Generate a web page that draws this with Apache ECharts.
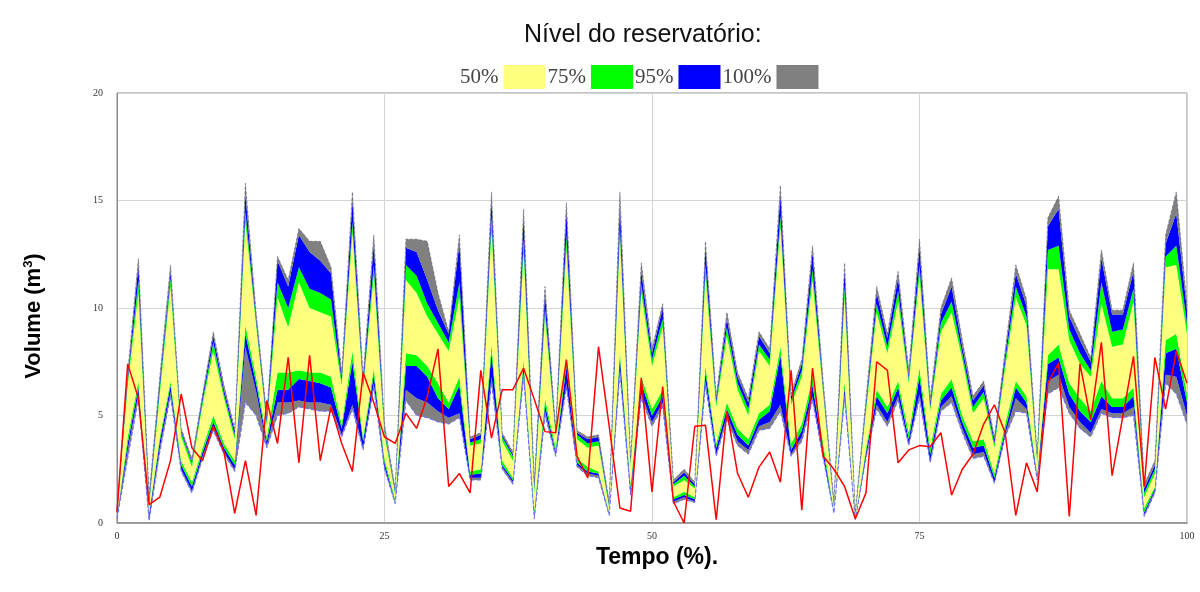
<!DOCTYPE html>
<html>
<head>
<meta charset="utf-8">
<script src="https://cdn.jsdelivr.net/npm/echarts@6/dist/echarts.min.js"></script>
<style>
  html, body { margin: 0; padding: 0; background: #fff; }
  #chart { width: 1200px; height: 592px; }
</style>
</head>
<body>
<div id="chart"></div>
<script>
// Tempo (%) 0..100, one value per step
const tempo = Array.from({ length: 101 }, (_, i) => String(i))

// envelope of the reservoir level bands (upper side)
const hi100 = [0.6,7.0,12.3,1.3,6.8,12.0,4.4,3.0,6.0,8.9, 6.4,4.4,15.8,9.8,5.0,12.4,11.3,13.7,13.1,13.1, 11.9,7.0,15.4,6.8,13.4,4.6,1.6,13.2,13.2,13.1, 10.7,8.9,13.4,4.0,4.2,15.4,4.2,3.3,14.6,1.9, 11.0,4.4,14.9,4.3,4.0,4.1,1.0,15.4,3.0,12.1, 8.1,10.2,2.0,2.5,1.9,13.1,5.9,9.8,7.0,5.8, 8.9,8.1,15.7,6.0,7.6,12.9,6.6,1.0,12.1,0.5, 5.8,11.0,8.8,11.7,7.1,13.2,5.8,10.0,11.4,8.5, 5.9,6.6,4.0,8.0,12.0,10.4,3.2,14.2,15.2,9.9, 8.8,7.7,12.7,9.9,9.9,12.1,1.8,2.9,13.4,15.4, 10.1]
const hi95 = [0.55,6.8,12.0,1.1,6.6,11.7,4.3,2.9,5.9,8.7, 6.2,4.3,15.3,9.6,4.9,12.2,11.0,13.4,12.6,12.2, 11.6,6.8,15.0,6.6,13.0,4.4,1.5,12.8,12.6,11.3, 9.9,8.8,13.0,3.9,4.1,15.0,4.1,3.2,14.2,1.8, 10.7,4.3,14.5,4.2,3.9,4.0,0.9,14.8,2.9,11.7, 7.9,10.0,1.9,2.35,1.8,12.8,5.8,9.5,6.8,5.6, 8.7,7.9,15.3,5.9,7.4,12.6,6.4,0.9,11.8,0.45, 5.6,10.7,8.6,11.4,6.9,12.8,5.6,9.7,11.0,8.2, 5.7,6.4,3.9,7.8,11.6,10.1,3.1,13.8,14.6,9.6, 8.5,7.5,12.3,9.7,9.7,11.7,1.6,2.7,13.0,14.4, 9.9]
const hi75 = [0.5,6.6,11.3,0.9,6.3,11.4,4.2,2.8,5.7,8.4, 6.0,4.1,14.5,9.4,4.7,11.2,10.0,11.9,10.9,10.7, 10.4,6.6,14.0,6.4,12.0,4.3,1.4,12.0,11.5,10.2, 9.3,8.4,11.2,3.75,3.9,14.2,4.0,3.1,13.2,1.6, 10.0,4.2,13.4,4.1,3.7,3.8,0.8,13.8,2.8,11.1, 7.6,9.5,1.8,2.2,1.7,12.0,5.6,9.1,6.5,5.3, 8.3,7.6,14.3,5.7,7.1,11.8,6.2,0.8,11.0,0.4, 5.4,10.2,8.2,10.8,6.7,12.0,5.4,9.3,10.3,7.9, 5.4,6.1,3.7,7.5,11.0,9.6,3.0,12.7,12.9,9.0, 7.9,7.1,11.2,8.9,9.0,10.9,1.4,2.5,12.4,12.9, 9.3]
const hi50 = [0.45,6.4,10.7,0.8,6.0,11.0,4.0,2.6,5.5,8.0, 5.8,3.9,14.0,9.2,4.5,10.5,9.1,11.2,10.0,9.8, 9.6,6.4,13.5,6.2,11.5,4.1,1.3,11.3,10.7,9.6, 8.8,8.0,10.5,3.6,3.7,13.6,3.8,2.9,12.6,1.4, 9.6,4.0,12.8,3.9,3.5,3.6,0.7,13.3,2.6,10.7, 7.3,9.1,1.7,2.0,1.6,11.5,5.4,8.7,6.2,5.0, 8.0,7.3,13.8,5.5,6.8,11.3,6.0,0.75,10.5,0.35, 5.2,9.8,7.9,10.3,6.5,11.5,5.2,8.9,9.8,7.6, 5.1,5.8,3.5,7.2,10.5,9.2,2.8,11.8,11.8,8.5, 7.4,6.8,10.2,8.2,8.3,10.3,1.2,2.3,11.9,12.0, 8.8]

// lower side
const lo50 = [0.35,4.0,6.6,0.5,4.0,6.6,2.9,1.9,3.5,5.0, 3.7,2.9,9.2,6.8,4.0,7.0,7.0,7.1,7.0,7.0, 6.8,4.6,8.0,4.0,7.2,3.0,1.1,7.9,7.8,7.3, 6.5,5.6,6.8,2.4,2.5,8.3,2.9,2.1,7.6,0.6, 5.8,3.5,7.7,3.0,2.6,2.4,0.5,8.0,1.8,6.8, 5.3,6.2,1.2,1.45,1.2,7.3,3.7,5.6,4.4,3.9, 5.1,5.5,8.2,3.7,4.6,6.8,3.7,0.6,6.6,0.25, 3.5,6.2,5.4,6.6,4.2,7.2,3.5,6.0,6.7,5.0, 3.8,3.9,2.3,4.6,6.6,5.9,2.3,7.8,8.3,6.5, 5.8,5.2,6.6,5.8,5.8,6.3,0.7,1.7,8.5,8.8, 6.0]
const lo75 = [0.3,3.7,6.3,0.4,3.8,6.4,2.7,1.7,3.3,4.7, 3.5,2.7,8.8,6.5,3.8,6.2,6.2,6.7,6.6,6.5, 6.3,4.4,7.5,3.8,6.9,2.8,1.0,7.3,7.3,6.8, 5.8,5.3,6.4,2.25,2.3,7.9,2.7,2.0,7.3,0.4, 5.5,3.3,7.3,2.8,2.4,2.3,0.45,7.7,1.6,6.5, 5.0,5.9,1.1,1.3,1.1,7.0,3.5,5.3,4.1,3.6, 4.8,5.2,7.8,3.4,4.3,6.4,3.4,0.55,6.3,0.2, 3.3,5.9,5.1,6.3,3.9,6.8,3.2,5.7,6.3,4.7, 3.5,3.6,2.1,4.3,6.3,5.6,2.2,7.4,7.7,6.0, 5.2,4.7,5.9,5.4,5.4,5.9,0.5,1.6,7.9,8.1, 5.6]
const lo95 = [0.25,3.4,6.0,0.2,3.5,6.1,2.5,1.5,3.1,4.5, 3.3,2.5,8.2,6.1,3.6,5.6,5.6,5.7,5.6,5.6, 5.5,4.1,5.5,3.5,6.5,2.6,0.95,6.2,5.8,5.6, 5.2,4.9,5.1,2.1,2.1,6.8,2.6,1.9,7.0,0.3, 5.2,3.2,6.5,2.7,2.3,2.2,0.4,7.2,1.4,6.0, 4.7,5.6,1.0,1.2,1.0,6.6,3.2,5.0,3.8,3.4, 4.5,4.7,5.5,3.2,4.0,5.9,3.1,0.5,6.0,0.18, 3.1,5.5,4.7,5.9,3.7,6.0,2.9,5.4,5.9,4.4, 3.2,3.3,1.9,4.1,5.8,5.3,2.1,6.6,6.9,5.4, 4.7,4.2,5.3,5.1,5.1,5.4,0.4,1.5,6.9,6.8, 5.0]
const lo100 = [0.2,3.0,5.8,0.1,3.3,5.9,2.4,1.4,3.0,4.3, 3.2,2.4,5.6,5.0,3.5,5.0,5.1,5.4,5.3,5.2, 5.2,4.0,5.3,3.4,6.3,2.5,0.9,5.7,5.0,4.9, 4.7,4.6,4.9,2.0,2.0,6.5,2.5,1.8,6.8,0.2, 5.0,3.1,6.3,2.6,2.2,2.1,0.35,7.0,1.3,5.8, 4.5,5.4,0.9,1.1,0.95,6.4,3.1,4.8,3.6,3.2, 4.3,4.4,5.2,3.1,3.8,5.7,3.0,0.45,5.8,0.15, 3.0,5.3,4.5,5.7,3.6,5.8,2.8,5.2,5.6,4.2, 3.0,3.1,1.85,4.0,5.2,5.1,2.0,6.0,6.3,5.1, 4.4,4.0,5.1,4.9,4.9,5.0,0.3,1.4,6.5,6.0, 4.6]

// observed volume (red line)
const observado = [0.5,7.4,5.8,0.85,1.2,2.9,6.0,3.5,2.9,4.5, 3.3,0.45,2.9,0.35,5.7,3.7,7.7,2.8,7.8,2.9, 5.4,3.7,2.4,7.0,5.6,4.0,3.7,5.1,4.4,5.9, 8.1,1.7,2.3,1.4,7.1,3.95,6.2,6.2,7.2,5.75, 4.25,4.2,7.6,3.1,2.1,8.2,4.5,0.7,0.55,6.75, 1.45,6.35,1.0,0.0,4.5,4.55,0.15,5.2,2.3,1.2, 2.6,3.3,1.9,7.1,0.6,7.2,3.1,2.5,1.7,0.2, 1.4,7.5,7.1,2.8,3.4,3.6,3.55,4.2,1.3,2.5, 3.2,4.6,5.5,4.2,0.35,2.8,1.45,6.5,7.45,0.3, 7.4,4.8,8.4,2.2,4.95,7.75,1.7,7.7,5.3,8.0, 6.5]

const legendNames = ['50%', '75%', '95%', '100%']
const colors = { '50%': '#ffff80', '75%': '#00ff00', '95%': '#0000ff', '100%': '#808080' }

const diff = (top, bot) => top.map((v, i) => Math.max(0, +(v - bot[i]).toFixed(3)))

// bands stacked from the bottom envelope upwards
const layers = [
  ['100%', lo95, lo100],
  ['95%', lo75, lo95],
  ['75%', lo50, lo75],
  ['50%', hi50, lo50],
  ['75%', hi75, hi50],
  ['95%', hi95, hi75],
  ['100%', hi100, hi95]
]

const series = [{
  name: 'base',
  type: 'line',
  stack: 'fan',
  data: lo100,
  symbol: 'none',
  lineStyle: { width: 0 },
  silent: true
}]

layers.forEach(([name, top, bot]) => {
  series.push({
    name,
    type: 'line',
    stack: 'fan',
    data: diff(top, bot),
    symbol: 'none',
    color: colors[name],
    lineStyle: { width: 0 },
    areaStyle: { color: colors[name], opacity: 1 },
    silent: true
  })
})

series.push({
  name: 'min',
  type: 'line',
  data: lo100,
  symbol: 'none',
  lineStyle: { width: 1, color: '#6a6aff', type: 'dashed' },
  z: 4
})
series.push({
  name: 'max',
  type: 'line',
  data: hi100,
  symbol: 'none',
  lineStyle: { width: 0.8, color: '#505070', type: 'dashed', opacity: 0.7 },
  z: 4
})
series.push({
  name: 'observado',
  type: 'line',
  data: observado,
  symbol: 'none',
  lineStyle: { width: 1.5, color: '#ff0000' },
  z: 5
})

const chart = echarts.init(document.getElementById('chart'), null, { renderer: 'canvas' })
chart.setOption({
  animation: false,
  backgroundColor: '#fff',
  title: {
    text: 'Nível do reservatório:',
    left: 519,
    top: 18,
    textStyle: { fontFamily: 'Liberation Sans', fontSize: 25, fontWeight: 'normal', color: '#111' }
  },
  legend: {
    data: legendNames,
    left: 455,
    top: 60,
    align: 'right',
    icon: 'rect',
    itemWidth: 42,
    itemHeight: 24,
    itemGap: 2,
    selectedMode: false,
    textStyle: { fontFamily: 'Liberation Serif', fontSize: 21, color: '#444' }
  },
  grid: {
    left: 117, right: 13, top: 93, bottom: 69,
    show: true, borderColor: '#8a8a8a', borderWidth: 1
  },
  xAxis: {
    type: 'category',
    data: tempo,
    boundaryGap: false,
    name: 'Tempo (%).',
    nameLocation: 'middle',
    nameGap: 18,
    nameTextStyle: { fontFamily: 'Liberation Sans', fontSize: 23, fontWeight: 'bold', color: '#000', padding: [0, 0, 0, 10] },
    axisLine: { lineStyle: { color: '#8a8a8a', width: 1.5 } },
    axisTick: { show: false },
    axisLabel: { interval: 24, fontFamily: 'Liberation Serif', fontSize: 10, color: '#333', margin: 8 },
    splitLine: { show: true, interval: 24, lineStyle: { color: '#d4d4d4' } }
  },
  yAxis: {
    type: 'value',
    min: 0, max: 20, interval: 5,
    name: 'Volume (m{sup|3})',
    nameLocation: 'middle',
    nameGap: 72,
    nameTextStyle: {
      fontFamily: 'Liberation Sans', fontSize: 22, fontWeight: 'bold', color: '#000',
      padding: [0, 0, 0, -16],
      rich: { sup: { fontFamily: 'Liberation Sans', fontSize: 13, fontWeight: 'bold', color: '#000', verticalAlign: 'top', padding: [0, 0, 10, 0] } }
    },
    axisLine: { show: true, lineStyle: { color: '#8a8a8a' } },
    axisTick: { show: false },
    axisLabel: { fontFamily: 'Liberation Serif', fontSize: 10, color: '#333', margin: 14 },
    splitLine: { lineStyle: { color: '#d4d4d4' } }
  },
  series
})
</script>
</body>
</html>
